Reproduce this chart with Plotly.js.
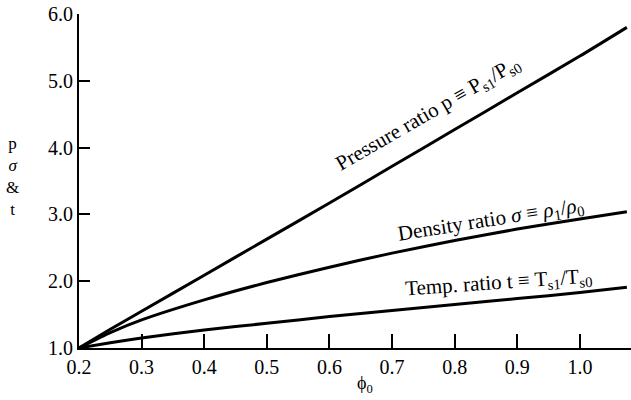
<!DOCTYPE html>
<html>
<head>
<meta charset="utf-8">
<script src="https://cdn.plot.ly/plotly-3.0.1.min.js"></script>
<style>html,body{margin:0;padding:0;background:#fff;}#chart{width:631px;height:400px;}</style>
</head>
<body>
<div id="chart"></div>
<script>
const phi0 = [0.2, 0.25, 0.3, 0.4, 0.5, 0.6, 0.7, 0.8, 0.9, 1.0, 1.075];
const pressureRatio = [1.0, 1.28, 1.55, 2.09, 2.63, 3.17, 3.72, 4.27, 4.82, 5.37, 5.80];
const densityRatio = [1.0, 1.23, 1.42, 1.72, 1.98, 2.21, 2.42, 2.61, 2.78, 2.93, 3.04];
const tempRatio = [1.0, 1.08, 1.15, 1.27, 1.37, 1.47, 1.56, 1.65, 1.74, 1.83, 1.91];
const xTicks = [0.2, 0.3, 0.4, 0.5, 0.6, 0.7, 0.8, 0.9, 1.0];
const yTicks = [1.0, 2.0, 3.0, 4.0, 5.0, 6.0];
const yLabelText = 'p<br><i>σ</i><br>&<br>t';
const xLabelText = 'ϕ<sub>0</sub>';

const font = 'Liberation Serif, Times New Roman, serif';
const line = {color: '#000', width: 3, shape: 'spline', smoothing: 0.6};

const traces = [
  {x: phi0, y: pressureRatio, mode: 'lines', line: line, name: 'p', hoverinfo: 'none'},
  {x: phi0, y: densityRatio, mode: 'lines', line: line, name: 'σ', hoverinfo: 'none'},
  {x: phi0, y: tempRatio, mode: 'lines', line: line, name: 't', hoverinfo: 'none'}
];

const annotations = [
  {x: 0.757, y: 4.50, text: 'Pressure ratio p ≡ P<sub>s1</sub>/P<sub>s0</sub>', textangle: -30},
  {x: 0.858, y: 2.91, text: 'Density ratio <i>σ</i> ≡ <i>ρ</i><sub>1</sub>/<i>ρ</i><sub>0</sub>', textangle: -9},
  {x: 0.870, y: 1.98, text: 'Temp. ratio t ≡ T<sub>s1</sub>/T<sub>s0</sub>', textangle: -4}
].map(a => Object.assign({xref: 'x', yref: 'y', showarrow: false, font: {family: font, size: 21, color: '#000'}}, a));

annotations.push({xref: 'paper', yref: 'y', x: -0.121, xanchor: 'center', y: 3.57, yanchor: 'middle',
  text: yLabelText, showarrow: false, font: {family: font, size: 17, color: '#000'}});
annotations.push({xref: 'x', yref: 'paper', x: 0.656, xanchor: 'center', y: -0.108, yanchor: 'middle',
  text: xLabelText, showarrow: false, font: {family: font, size: 18, color: '#000'}});

const layout = {
  width: 631, height: 400,
  margin: {l: 79, r: 0, t: 14, b: 52},
  paper_bgcolor: '#fff', plot_bgcolor: '#fff',
  showlegend: false,
  font: {family: font, size: 20, color: '#000'},
  xaxis: {
    range: [0.2, 1.0816], tickvals: xTicks, tickformat: '.1f',
    ticks: 'inside', ticklen: 14, tickwidth: 2, tickcolor: '#000',
    showline: true, linewidth: 2, linecolor: '#000',
    showgrid: false, zeroline: false,
    tickfont: {family: font, size: 20, color: '#000'}
  },
  yaxis: {
    range: [1, 6], tickvals: yTicks, tickformat: '.1f',
    ticks: 'inside', ticklen: 11, tickwidth: 2, tickcolor: '#000',
    showline: true, linewidth: 2, linecolor: '#000',
    showgrid: false, zeroline: false,
    tickfont: {family: font, size: 20, color: '#000'}
  },
  annotations: annotations
};

Plotly.newPlot('chart', traces, layout, {displayModeBar: false, staticPlot: true});
</script>
</body>
</html>
